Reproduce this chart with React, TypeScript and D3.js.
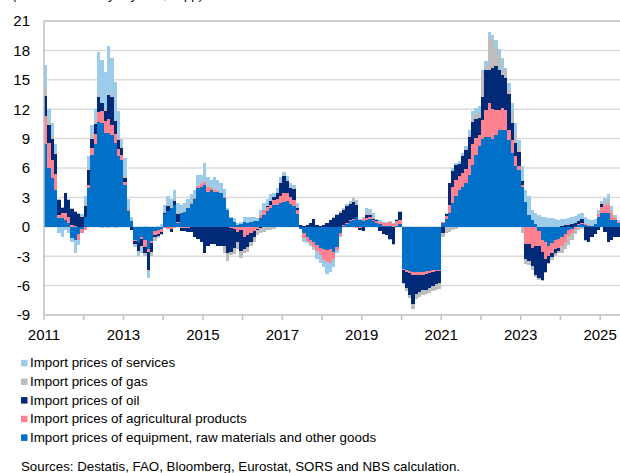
import React from "react";
import * as d3 from "d3";

// ---- Data (monthly, Jan 2011 – Jun 2025), contributions in pp ----
const startYear = 2011;
const nMonths = 174;

const equipment = [
  8.4, 6.0, 5.0, 3.8, 0.9, 0.9, 0.7, 0.4, -1.1, -1.3, -0.7, -0.2,
  1.0, 4.0, 7.3, 8.5, 10.7, 10.6, 9.6, 9.6, 9.4, 8.6, 7.2, 6.8,
  4.3, 1.6, 0.6, -1.3, -1.5, -1.0, -1.3, -2.3, -1.4, -0.4, -0.3, -0.2,
  1.3, 1.6, 1.9, 2.2, 0.4, 1.4, 1.5, 1.9, 2.3, 2.8, 4.0, 4.1,
  4.3, 3.6, 3.8, 3.6, 3.6, 3.4, 2.9, 1.7, 0.9, 0.5, 0.2, 0.3,
  0.5, 0.4, 0.5, 0.6, 0.6, 0.9, 1.2, 1.6, 1.9, 2.2, 2.2, 2.4,
  2.5, 2.6, 2.3, 2.1, 1.3, -0.2, -0.6, -1.0, -1.3, -1.6, -1.9, -2.2,
  -2.3, -2.4, -2.3, -2.6, -2.1, -0.6, 0.1, 0.3, 0.6, 0.7, 1.0, 0.7,
  0.6, 0.7, 0.8, 0.6, 0.4, 0.3, 0.1, 0.1, 0.1, 0.0, 0.1, 0.3,
  -4.3, -4.4, -4.5, -4.6, -4.6, -4.6, -4.6, -4.5, -4.5, -4.4, -4.4, -4.4,
  0.4, 0.8, 1.4, 2.4, 3.1, 3.8, 4.1, 4.5, 5.3, 6.3, 7.3, 8.2,
  9.0, 9.2, 9.2, 9.0, 9.4, 9.9, 9.9, 9.9, 8.9, 7.5, 6.2, 5.8,
  4.1, 2.5, 1.2, 0.7, 0.3, -0.4, -1.3, -1.6, -2.0, -1.7, -1.3, -1.2,
  -1.0, -0.7, -0.3, -0.2, 0.1, 0.2, 0.3, 0.2, 0.1, 0.1, 0.3, 1.0,
  1.4, 1.4, 1.4, 0.7, 0.7, 0.4,
];

const agricultural = [
  2.9, 2.6, 1.8, 1.6, 0.3, 0.5, 0.7, 0.6, 0.2, 0.1, -0.6, -0.4,
  -0.3, 0.3, 0.7, 1.0, 1.0, 1.2, 1.2, 1.4, 1.0, 0.9, 0.7, 0.5,
  0.3, 0.1, 0.0, -0.1, -0.1, -0.2, -0.8, -0.3, -0.3, -0.4, -0.4, -0.3,
  -0.1, -0.2, -0.2, -0.1, 0.1, -0.1, -0.1, -0.1, 0.1, 0.1, 0.2, 0.3,
  0.3, 0.5, 0.2, 0.2, 0.1, 0.1, 0.1, 0.0, -0.1, -0.2, -0.5, -0.3,
  -1.0, -0.8, -0.6, -0.4, -0.2, 0.3, 0.5, 0.4, 0.3, 0.5, 0.6, 0.7,
  0.9, 0.8, 0.7, 0.6, 0.4, 0.0, -0.5, -0.4, -0.5, -0.5, -0.6, -0.7,
  -1.1, -1.2, -1.4, -0.7, -0.3, -0.3, 0.1, 0.1, 0.1, 0.1, -0.1, -0.1,
  0.2, 0.2, 0.2, 0.1, 0.2, 0.2, 0.3, 0.3, 0.4, 0.3, 0.5, 0.4,
  -0.1, -0.2, -0.2, -0.3, -0.3, -0.3, -0.3, -0.3, -0.2, -0.2, -0.1, -0.1,
  0.1, 0.3, 0.8, 1.7, 1.7, 1.4, 1.4, 1.4, 1.6, 2.2, 1.8, 1.2,
  1.9, 2.7, 3.4, 3.0, 2.5, 2.0, 2.2, 2.0, 1.0, 1.4, 1.0, 0.4,
  0.2, -1.8, -1.8, -2.2, -2.0, -1.6, -1.3, -1.7, -1.0, -1.0, -1.0, -1.0,
  -1.0, -0.8, -0.6, -0.4, -0.2, 0.1, 0.1, 0.1, 0.1, 0.0, 0.0, 0.3,
  0.6, 0.8, 0.8, 0.7, 0.2, 0.1,
];

const oil = [
  2.0, 1.8, 2.2, 2.0, 1.5, 0.5, 2.0, 1.7, 1.6, 1.4, 1.3, 1.0,
  1.1, 1.5, 1.0, 1.0, 1.5, 0.8, 1.0, 2.4, 2.8, 1.3, 1.0, 0.7,
  0.4, 0.0, -0.3, -0.4, -0.9, -0.8, -0.6, -1.8, -0.9, -0.2, -0.2, -0.2,
  0.1, 0.5, -0.3, 0.4, 0.8, -0.3, -0.3, -0.4, -0.5, -1.0, -1.2, -1.6,
  -2.7, -2.0, -1.8, -1.8, -2.0, -2.0, -2.0, -2.7, -2.5, -2.0, -1.0, -2.2,
  -1.3, -1.3, -0.9, -0.6, -0.1, -0.1, 0.0, 0.1, 0.4, 0.3, 0.6, 1.4,
  1.8, 1.3, 1.0, 1.2, 0.2, 0.2, 0.1, 0.2, 0.4, 0.8, 0.2, 0.1,
  0.2, 0.4, 0.7, 0.9, 1.2, 1.4, 1.5, 1.7, 1.6, 1.7, 1.2, -0.2,
  -0.4, 0.3, 0.2, 0.1, 0.1, -0.4, -0.7, -0.8, -1.2, -1.8, 0.1, 0.8,
  -1.3, -1.6, -2.3, -3.0, -2.0, -1.8, -1.5, -1.6, -1.5, -1.4, -1.3, -1.2,
  -0.6, 0.2, 2.3, 1.6, 1.5, 1.2, 1.7, 1.9, 2.3, 2.2, 1.9, 1.7,
  2.3, 4.1, 3.4, 4.2, 4.5, 4.1, 3.4, 3.3, 3.7, 1.7, 1.4, 1.4,
  0.4, -1.5, -1.7, -1.8, -2.9, -3.2, -2.8, -1.3, -0.7, -0.4, -0.4, -0.3,
  0.1, 0.2, 0.2, 0.3, 0.3, 0.3, 0.4, -1.3, -1.5, -1.0, -0.7, -0.3,
  0.3, -0.5, -1.5, -1.3, -1.0, -1.0,
];

const gas = [
  0.8, 0.3, 0.3, 0.3, 0.1, 0.1, 0.1, 0.1, 0.1, 0.1, 0.1, 0.1,
  0.5, 0.3, 0.5, 0.4, 0.3, -0.15, 0.2, -0.15, 0.4, -0.15, 0.3, 0.2,
  0.2, 0.1, 0.0, -0.1, -0.3, -0.2, -0.3, -0.2, -0.3, -0.3, -0.2, -0.1,
  0.1, 0.1, 0.2, 0.2, 0.2, 0.1, 0.1, 0.2, 0.1, 0.1, 0.1, 0.1,
  0.1, 0.1, 0.1, 0.1, 0.1, 0.1, -0.7, -0.8, -0.3, -0.6, -0.8, -0.7,
  -0.4, -0.5, -0.5, -0.5, -0.5, -0.5, -0.5, -0.3, -0.3, -0.2, 0.1, 0.1,
  0.1, 0.1, 0.1, 0.1, 0.1, 0.0, 0.0, 0.0, 0.0, 0.0, 0.0, 0.0,
  0.0, 0.0, 0.0, 0.1, 0.1, 0.2, 0.1, 0.1, 0.2, 0.3, 0.4, 0.0,
  0.1, 0.3, 0.3, 0.2, 0.0, 0.0, 0.0, 0.0, -0.1, -0.1, 0.0, 0.1,
  -0.1, -0.3, -0.3, -0.5, -0.5, -0.5, -0.6, -0.5, -0.6, -0.6, -0.6, -0.6,
  -0.4, -0.6, -0.5, -0.3, -0.2, 0.0, 0.1, 0.1, 0.2, 0.4, 0.5, 0.6,
  2.6, 0.4, 3.5, 2.9, 1.9, 1.4, 0.5, 0.8, 0.5, 1.2, 1.0, 0.3,
  -0.6, -0.5, -0.4, -0.4, -0.2, -0.2, -0.1, -0.1, -0.1, -0.3, -0.3, -0.2,
  -0.7, -0.8, -1.0, -0.7, -0.5, -0.3, -0.2, -0.1, 0.0, 0.0, 0.0, 0.1,
  0.1, 0.3, 0.5, 0.3, 0.1, 0.0,
];

const services = [
  2.4, 1.3, 1.3, 0.8, -0.6, -1.0, -0.3, -0.6, -0.4, -1.4, -0.6, 0.2,
  0.5, 1.1, 0.9, 1.1, 4.3, 4.4, 3.8, 5.0, 3.6, 4.0, 2.6, 0.8,
  1.8, 1.0, 0.4, -0.2, -0.2, -0.5, 0.1, -0.6, -0.1, -0.1, 0.1, 0.3,
  0.7, 0.9, 0.7, 1.0, 0.9, 0.7, 0.8, 0.7, 0.8, 0.8, 1.0, 0.8,
  1.8, 0.9, 0.7, 1.2, 1.0, 0.9, 0.9, 0.2, 0.1, 0.4, 0.2, 0.2,
  0.5, 0.6, 0.5, 0.4, 0.3, 0.5, 0.7, 0.7, 0.7, 0.4, 0.5, 0.5,
  0.3, 0.4, 0.4, 0.3, 0.4, 0.0, -0.4, -0.3, -0.2, -0.3, -0.8, -0.8,
  -0.7, -1.2, -0.9, -0.8, -0.3, -0.1, 0.1, 0.1, 0.1, 0.1, 0.1, 0.1,
  0.1, 0.4, 0.3, 0.4, 0.1, 0.2, 0.1, 0.1, 0.1, 0.1, 0.1, 0.0,
  0.0, 0.0, 0.0, 0.0, 0.0, 0.0, 0.0, 0.0, 0.0, 0.0, 0.0, 0.0,
  0.0, 0.1, 0.0, 0.3, 0.2, 0.3, 0.2, 0.3, 0.5, 0.7, 0.6, 0.6,
  0.2, 0.5, 0.4, 0.5, 0.8, 0.7, 1.2, 0.2, 0.6, 0.8, 1.0, 1.0,
  1.5, 1.3, 1.9, 1.0, 1.1, 1.2, 1.0, 1.0, 0.9, 0.9, 0.8, 0.7,
  0.7, 0.6, 0.7, 0.7, 0.7, 0.7, 0.6, 0.7, 0.6, 0.6, 0.5, 0.3,
  0.2, 0.4, 0.6, 0.4, 0.2, 0.2,
];

const tickYears = d3.range(2011, 2026);
const labelYears = [2011, 2013, 2015, 2017, 2019, 2021, 2023, 2025];
const yTicks = [-9, -6, -3, 0, 3, 6, 9, 12, 15, 18, 21];

const seriesKeys = ["equipment", "agricultural", "oil", "gas", "services"];
const seriesColors: Record<string, string> = {
  equipment: "#0070C9",
  agricultural: "#FF8290",
  oil: "#002A78",
  gas: "#BDBDBD",
  services: "#9DCBEA",
};
const legendItems = [
  { key: "services", label: "Import prices of services" },
  { key: "gas", label: "Import prices of gas" },
  { key: "oil", label: "Import prices of oil" },
  { key: "agricultural", label: "Import prices of agricultural products" },
  { key: "equipment", label: "Import prices of equipment, raw materials and other goods" },
];

const FONT = "'Liberation Sans', Arial, Helvetica, sans-serif";

export default function App() {
  const W = 620;
  const H = 473;
  const left = 44;
  const right = 620;
  const top = 21;
  const bottom = 315;

  const months = d3.range(nMonths);
  const table = months.map((i) => ({
    i,
    equipment: equipment[i],
    agricultural: agricultural[i],
    oil: oil[i],
    gas: gas[i],
    services: services[i],
  }));

  const x = d3.scaleBand<number>().domain(months).range([left, right]).paddingInner(0).paddingOuter(0);
  const y = d3.scaleLinear().domain([-9, 21]).range([bottom, top]);

  const stack = d3
    .stack<any>()
    .keys(seriesKeys)
    .order(d3.stackOrderNone)
    .offset(d3.stackOffsetDiverging);
  const layers = stack(table);

  const bw = x.bandwidth();
  const yearX = (yr: number) => x((yr - startYear) * 12) as number;

  return (
    <svg
      width={W}
      height={H}
      style={{ position: "absolute", left: 0, top: 0, background: "#fff" }}
      fontFamily={FONT}
    >
      <rect x={0} y={0} width={W} height={H} fill="#fff" />
      {/* unit label, cut off at the top edge as in the source */}
      <text x={12} y={-0.8} fontSize={13} fill="#000">
        (contributions to y-o-y rate, in pp)
      </text>

      {/* gridlines */}
      {yTicks
        .filter((t) => t !== -9)
        .map((t) => (
          <line
            key={"g" + t}
            x1={left}
            x2={right}
            y1={y(t)}
            y2={y(t)}
            stroke={t === 21 ? "#BFBFBF" : "#DCDCDC"}
            strokeWidth={1.5}
          />
        ))}

      {/* bars */}
      <g shapeRendering="crispEdges">
        {layers.map((layer) => (
          <g key={layer.key} fill={seriesColors[layer.key]}>
            {layer.map((d, idx) => {
              const x0 = Math.round(x(idx) as number);
              const x1 = Math.round((x(idx) as number) + bw);
              const ya = y(d[0]);
              const yb = y(d[1]);
              const h = Math.abs(yb - ya);
              if (h < 0.01) return null;
              return <rect key={idx} x={x0} width={x1 - x0} y={Math.min(ya, yb)} height={h} />;
            })}
          </g>
        ))}
      </g>

      {/* axes */}
      <line x1={left} x2={left} y1={top - 0.75} y2={bottom} stroke="#BFBFBF" strokeWidth={1.5} />
      <line x1={left} x2={right} y1={bottom} y2={bottom} stroke="#BFBFBF" strokeWidth={1.5} />
      {tickYears.map((yr) => (
        <line
          key={"t" + yr}
          x1={yearX(yr)}
          x2={yearX(yr)}
          y1={bottom}
          y2={bottom + 5}
          stroke="#BFBFBF"
          strokeWidth={1.5}
        />
      ))}

      {/* y labels */}
      {yTicks.map((t) => (
        <text key={"yl" + t} x={30} y={y(t)} dy="0.36em" textAnchor="end" fontSize={15} fill="#000">
          {t}
        </text>
      ))}

      {/* x labels */}
      {labelYears.map((yr) => (
        <text key={"xl" + yr} x={yearX(yr)} y={340} textAnchor="middle" fontSize={15} fill="#000">
          {yr}
        </text>
      ))}

      {/* legend */}
      {legendItems.map((it, k) => {
        const by = 367.3 + k * 18.65;
        return (
          <g key={it.key}>
            <rect x={21} y={by - 7.5} width={6.5} height={6.5} fill={seriesColors[it.key]} />
            <text x={30} y={by} fontSize={13.4} fill="#000">
              {it.label}
            </text>
          </g>
        );
      })}

      <text x={21} y={470.7} fontSize={13.3} fill="#000">
        Sources: Destatis, FAO, Bloomberg, Eurostat, SORS and NBS calculation.
      </text>
    </svg>
  );
}
